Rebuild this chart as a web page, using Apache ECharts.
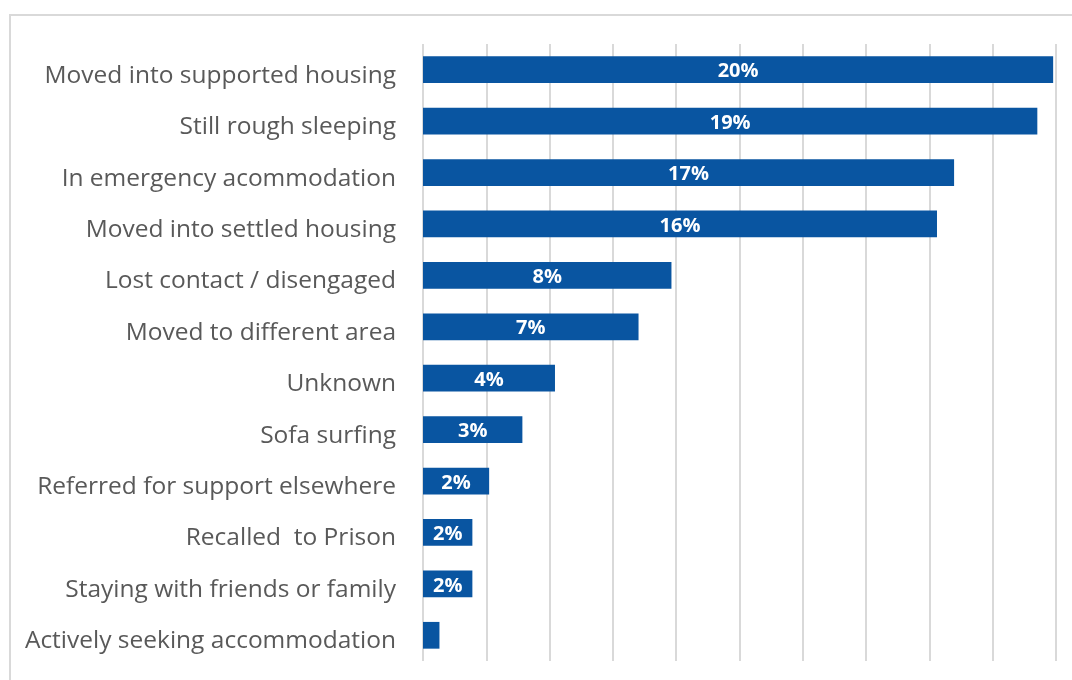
<!DOCTYPE html>
<html>
<head>
<meta charset="utf-8">
<style>
  html, body { margin: 0; padding: 0; background: #ffffff; }
  #chart { width: 1072px; height: 680px; }
</style>
<script src="https://cdn.jsdelivr.net/npm/echarts@6/dist/echarts.min.js"></script>
</head>
<body>
<div id="chart"></div>
<script>
// Outcomes, listed top to bottom
const categories = [
  'Moved into supported housing',
  'Still rough sleeping',
  'In emergency acommodation',
  'Moved into settled housing',
  'Lost contact / disengaged',
  'Moved to different area',
  'Unknown',
  'Sofa surfing',
  'Referred for support elsewhere',
  'Recalled  to Prison',
  'Staying with friends or family',
  'Actively seeking accommodation'
];

// Share of people for each outcome (%)
const shares = [19.91, 19.41, 16.78, 16.24, 7.85, 6.81, 4.17, 3.14, 2.09, 1.56, 1.56, 0.52];

// Value axis ticks (%)
const axisMin = 0;
const axisMax = 20;
const axisStep = 2;

// Bars too short to hold a label stay unlabelled
const minLabelled = 1;

const chart = echarts.init(document.getElementById('chart'), null, { renderer: 'canvas' });

const barData = shares.map(v => ({
  value: v,
  label: { show: v >= minLabelled }
}));

chart.setOption({
  animation: false,
  backgroundColor: '#ffffff',
  graphic: [{
    type: 'rect',
    shape: { x: 10, y: 15, width: 1200, height: 800 },
    style: { fill: 'none', stroke: '#d9d9d9', lineWidth: 2 },
    silent: true,
    z: 0
  }],
  grid: { left: 423, right: 16, top: 44, bottom: 19, containLabel: false },
  xAxis: {
    type: 'value',
    min: axisMin,
    max: axisMax,
    interval: axisStep,
    axisLine: { show: false },
    axisTick: { show: false },
    axisLabel: { show: false },
    splitLine: { show: true, lineStyle: { color: '#d9d9d9', width: 2 } }
  },
  yAxis: {
    type: 'category',
    data: categories,
    inverse: true,
    axisLine: { show: false },
    axisTick: { show: false },
    axisLabel: {
      margin: 27,
      color: '#595959',
      fontFamily: 'Open Sans',
      fontSize: 24.5,
      formatter: name => '{t|' + name + '}',
      rich: {
        t: {
          color: '#595959',
          fontFamily: 'Open Sans',
          fontSize: 24.5,
          padding: [12, 0, 0, 0]
        }
      }
    }
  },
  series: [{
    type: 'bar',
    data: barData,
    barCategoryGap: '48%',
    itemStyle: { color: '#0955a1' },
    label: {
      position: 'inside',
      color: '#ffffff',
      fontFamily: 'Open Sans',
      fontWeight: 'bold',
      fontSize: 20,
      offset: [0, 2],
      formatter: p => Math.round(p.value) + '%'
    }
  }]
});
</script>
</body>
</html>
